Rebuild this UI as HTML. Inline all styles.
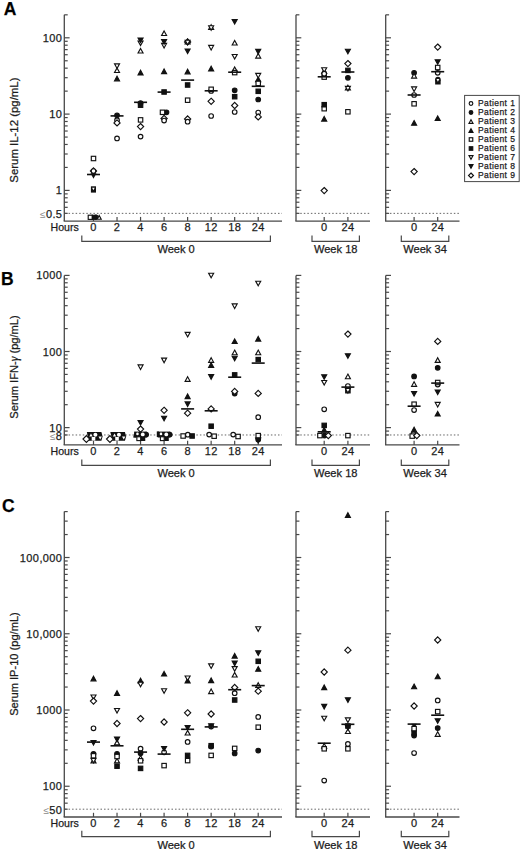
<!DOCTYPE html>
<html><head><meta charset="utf-8"><style>
html,body{margin:0;padding:0;background:#fff;}
svg{display:block;font-family:"Liberation Sans",sans-serif;}
text{stroke:#1c1c1c;stroke-width:0.25px;}
</style></head><body>
<svg width="520" height="849" viewBox="0 0 520 849">
<rect width="520" height="849" fill="#fff"/>
<text x="3.8" y="14.9" font-size="17.5" font-weight="bold" fill="#000">A</text>
<text transform="translate(17.8,130.1) rotate(-90)" text-anchor="middle" font-size="11.4" fill="#1c1c1c">Serum IL-12 (pg/mL)</text>
<line x1="64.3" y1="14.83" x2="64.3" y2="221.1" stroke="#484848" stroke-width="1.3"/>
<line x1="63.65" y1="221.1" x2="282.0" y2="221.1" stroke="#484848" stroke-width="1.3"/>
<line x1="64.3" y1="213.37" x2="67.7" y2="213.37" stroke="#484848" stroke-width="1.2"/>
<line x1="64.3" y1="207.33" x2="67.7" y2="207.33" stroke="#484848" stroke-width="1.2"/>
<line x1="64.3" y1="202.22" x2="67.7" y2="202.22" stroke="#484848" stroke-width="1.2"/>
<line x1="64.3" y1="197.79" x2="67.7" y2="197.79" stroke="#484848" stroke-width="1.2"/>
<line x1="64.3" y1="193.89" x2="67.7" y2="193.89" stroke="#484848" stroke-width="1.2"/>
<line x1="64.3" y1="190.40" x2="69.6" y2="190.40" stroke="#484848" stroke-width="1.2"/>
<line x1="64.3" y1="167.43" x2="67.7" y2="167.43" stroke="#484848" stroke-width="1.2"/>
<line x1="64.3" y1="154.00" x2="67.7" y2="154.00" stroke="#484848" stroke-width="1.2"/>
<line x1="64.3" y1="144.46" x2="67.7" y2="144.46" stroke="#484848" stroke-width="1.2"/>
<line x1="64.3" y1="137.07" x2="67.7" y2="137.07" stroke="#484848" stroke-width="1.2"/>
<line x1="64.3" y1="131.03" x2="67.7" y2="131.03" stroke="#484848" stroke-width="1.2"/>
<line x1="64.3" y1="125.92" x2="67.7" y2="125.92" stroke="#484848" stroke-width="1.2"/>
<line x1="64.3" y1="121.49" x2="67.7" y2="121.49" stroke="#484848" stroke-width="1.2"/>
<line x1="64.3" y1="117.59" x2="67.7" y2="117.59" stroke="#484848" stroke-width="1.2"/>
<line x1="64.3" y1="114.10" x2="69.6" y2="114.10" stroke="#484848" stroke-width="1.2"/>
<line x1="64.3" y1="91.13" x2="67.7" y2="91.13" stroke="#484848" stroke-width="1.2"/>
<line x1="64.3" y1="77.70" x2="67.7" y2="77.70" stroke="#484848" stroke-width="1.2"/>
<line x1="64.3" y1="68.16" x2="67.7" y2="68.16" stroke="#484848" stroke-width="1.2"/>
<line x1="64.3" y1="60.77" x2="67.7" y2="60.77" stroke="#484848" stroke-width="1.2"/>
<line x1="64.3" y1="54.73" x2="67.7" y2="54.73" stroke="#484848" stroke-width="1.2"/>
<line x1="64.3" y1="49.62" x2="67.7" y2="49.62" stroke="#484848" stroke-width="1.2"/>
<line x1="64.3" y1="45.19" x2="67.7" y2="45.19" stroke="#484848" stroke-width="1.2"/>
<line x1="64.3" y1="41.29" x2="67.7" y2="41.29" stroke="#484848" stroke-width="1.2"/>
<line x1="64.3" y1="37.80" x2="69.6" y2="37.80" stroke="#484848" stroke-width="1.2"/>
<line x1="64.3" y1="14.83" x2="67.7" y2="14.83" stroke="#484848" stroke-width="1.2"/>
<line x1="65.0" y1="213.37" x2="282.0" y2="213.37" stroke="#555" stroke-width="0.9" stroke-dasharray="1.5,2.05"/>
<line x1="93.50" y1="216.9" x2="93.50" y2="221.1" stroke="#484848" stroke-width="1.2"/>
<line x1="117.03" y1="216.9" x2="117.03" y2="221.1" stroke="#484848" stroke-width="1.2"/>
<line x1="140.56" y1="216.9" x2="140.56" y2="221.1" stroke="#484848" stroke-width="1.2"/>
<line x1="164.09" y1="216.9" x2="164.09" y2="221.1" stroke="#484848" stroke-width="1.2"/>
<line x1="187.62" y1="216.9" x2="187.62" y2="221.1" stroke="#484848" stroke-width="1.2"/>
<line x1="211.15" y1="216.9" x2="211.15" y2="221.1" stroke="#484848" stroke-width="1.2"/>
<line x1="234.68" y1="216.9" x2="234.68" y2="221.1" stroke="#484848" stroke-width="1.2"/>
<line x1="258.21" y1="216.9" x2="258.21" y2="221.1" stroke="#484848" stroke-width="1.2"/>
<text x="93.50" y="231.30" text-anchor="middle" font-size="11" letter-spacing="0.3" fill="#1c1c1c">0</text>
<text x="117.03" y="231.30" text-anchor="middle" font-size="11" letter-spacing="0.3" fill="#1c1c1c">2</text>
<text x="140.56" y="231.30" text-anchor="middle" font-size="11" letter-spacing="0.3" fill="#1c1c1c">4</text>
<text x="164.09" y="231.30" text-anchor="middle" font-size="11" letter-spacing="0.3" fill="#1c1c1c">6</text>
<text x="187.62" y="231.30" text-anchor="middle" font-size="11" letter-spacing="0.3" fill="#1c1c1c">8</text>
<text x="211.15" y="231.30" text-anchor="middle" font-size="11" letter-spacing="0.3" fill="#1c1c1c">12</text>
<text x="234.68" y="231.30" text-anchor="middle" font-size="11" letter-spacing="0.3" fill="#1c1c1c">18</text>
<text x="258.21" y="231.30" text-anchor="middle" font-size="11" letter-spacing="0.3" fill="#1c1c1c">24</text>
<path d="M81.8 235.50 V241.30 H270.4 V235.50" fill="none" stroke="#484848" stroke-width="1.2"/>
<text x="176.10" y="253.00" text-anchor="middle" font-size="11.1" fill="#1c1c1c">Week 0</text>
<text x="78.8" y="231.30" text-anchor="end" font-size="10.6" fill="#1c1c1c">Hours</text>
<text x="62.4" y="41.80" text-anchor="end" font-size="11" letter-spacing="0.4" fill="#1c1c1c">100</text>
<text x="62.4" y="118.10" text-anchor="end" font-size="11" letter-spacing="0.4" fill="#1c1c1c">10</text>
<text x="62.4" y="194.40" text-anchor="end" font-size="11" letter-spacing="0.4" fill="#1c1c1c">1</text>
<text x="62.4" y="218.17" text-anchor="end" font-size="11" letter-spacing="0.4" fill="#1c1c1c"><tspan fill="#8a8a8a" stroke="none" font-size="10">≤</tspan>0.5</text>
<line x1="296.0" y1="14.83" x2="296.0" y2="221.1" stroke="#484848" stroke-width="1.3"/>
<line x1="295.35" y1="221.1" x2="370.0" y2="221.1" stroke="#484848" stroke-width="1.3"/>
<line x1="296.0" y1="213.37" x2="299.4" y2="213.37" stroke="#484848" stroke-width="1.2"/>
<line x1="296.0" y1="207.33" x2="299.4" y2="207.33" stroke="#484848" stroke-width="1.2"/>
<line x1="296.0" y1="202.22" x2="299.4" y2="202.22" stroke="#484848" stroke-width="1.2"/>
<line x1="296.0" y1="197.79" x2="299.4" y2="197.79" stroke="#484848" stroke-width="1.2"/>
<line x1="296.0" y1="193.89" x2="299.4" y2="193.89" stroke="#484848" stroke-width="1.2"/>
<line x1="296.0" y1="190.40" x2="301.3" y2="190.40" stroke="#484848" stroke-width="1.2"/>
<line x1="296.0" y1="167.43" x2="299.4" y2="167.43" stroke="#484848" stroke-width="1.2"/>
<line x1="296.0" y1="154.00" x2="299.4" y2="154.00" stroke="#484848" stroke-width="1.2"/>
<line x1="296.0" y1="144.46" x2="299.4" y2="144.46" stroke="#484848" stroke-width="1.2"/>
<line x1="296.0" y1="137.07" x2="299.4" y2="137.07" stroke="#484848" stroke-width="1.2"/>
<line x1="296.0" y1="131.03" x2="299.4" y2="131.03" stroke="#484848" stroke-width="1.2"/>
<line x1="296.0" y1="125.92" x2="299.4" y2="125.92" stroke="#484848" stroke-width="1.2"/>
<line x1="296.0" y1="121.49" x2="299.4" y2="121.49" stroke="#484848" stroke-width="1.2"/>
<line x1="296.0" y1="117.59" x2="299.4" y2="117.59" stroke="#484848" stroke-width="1.2"/>
<line x1="296.0" y1="114.10" x2="301.3" y2="114.10" stroke="#484848" stroke-width="1.2"/>
<line x1="296.0" y1="91.13" x2="299.4" y2="91.13" stroke="#484848" stroke-width="1.2"/>
<line x1="296.0" y1="77.70" x2="299.4" y2="77.70" stroke="#484848" stroke-width="1.2"/>
<line x1="296.0" y1="68.16" x2="299.4" y2="68.16" stroke="#484848" stroke-width="1.2"/>
<line x1="296.0" y1="60.77" x2="299.4" y2="60.77" stroke="#484848" stroke-width="1.2"/>
<line x1="296.0" y1="54.73" x2="299.4" y2="54.73" stroke="#484848" stroke-width="1.2"/>
<line x1="296.0" y1="49.62" x2="299.4" y2="49.62" stroke="#484848" stroke-width="1.2"/>
<line x1="296.0" y1="45.19" x2="299.4" y2="45.19" stroke="#484848" stroke-width="1.2"/>
<line x1="296.0" y1="41.29" x2="299.4" y2="41.29" stroke="#484848" stroke-width="1.2"/>
<line x1="296.0" y1="37.80" x2="301.3" y2="37.80" stroke="#484848" stroke-width="1.2"/>
<line x1="296.0" y1="14.83" x2="299.4" y2="14.83" stroke="#484848" stroke-width="1.2"/>
<line x1="296.7" y1="213.37" x2="370.0" y2="213.37" stroke="#555" stroke-width="0.9" stroke-dasharray="1.5,2.05"/>
<line x1="324.20" y1="216.9" x2="324.20" y2="221.1" stroke="#484848" stroke-width="1.2"/>
<line x1="347.90" y1="216.9" x2="347.90" y2="221.1" stroke="#484848" stroke-width="1.2"/>
<text x="324.20" y="231.30" text-anchor="middle" font-size="11" letter-spacing="0.3" fill="#1c1c1c">0</text>
<text x="347.90" y="231.30" text-anchor="middle" font-size="11" letter-spacing="0.3" fill="#1c1c1c">24</text>
<path d="M312.0 235.50 V241.30 H359.4 V235.50" fill="none" stroke="#484848" stroke-width="1.2"/>
<text x="335.70" y="253.00" text-anchor="middle" font-size="11.1" fill="#1c1c1c">Week 18</text>
<line x1="385.7" y1="14.83" x2="385.7" y2="221.1" stroke="#484848" stroke-width="1.3"/>
<line x1="385.05" y1="221.1" x2="459.5" y2="221.1" stroke="#484848" stroke-width="1.3"/>
<line x1="385.7" y1="213.37" x2="389.09999999999997" y2="213.37" stroke="#484848" stroke-width="1.2"/>
<line x1="385.7" y1="207.33" x2="389.09999999999997" y2="207.33" stroke="#484848" stroke-width="1.2"/>
<line x1="385.7" y1="202.22" x2="389.09999999999997" y2="202.22" stroke="#484848" stroke-width="1.2"/>
<line x1="385.7" y1="197.79" x2="389.09999999999997" y2="197.79" stroke="#484848" stroke-width="1.2"/>
<line x1="385.7" y1="193.89" x2="389.09999999999997" y2="193.89" stroke="#484848" stroke-width="1.2"/>
<line x1="385.7" y1="190.40" x2="391.0" y2="190.40" stroke="#484848" stroke-width="1.2"/>
<line x1="385.7" y1="167.43" x2="389.09999999999997" y2="167.43" stroke="#484848" stroke-width="1.2"/>
<line x1="385.7" y1="154.00" x2="389.09999999999997" y2="154.00" stroke="#484848" stroke-width="1.2"/>
<line x1="385.7" y1="144.46" x2="389.09999999999997" y2="144.46" stroke="#484848" stroke-width="1.2"/>
<line x1="385.7" y1="137.07" x2="389.09999999999997" y2="137.07" stroke="#484848" stroke-width="1.2"/>
<line x1="385.7" y1="131.03" x2="389.09999999999997" y2="131.03" stroke="#484848" stroke-width="1.2"/>
<line x1="385.7" y1="125.92" x2="389.09999999999997" y2="125.92" stroke="#484848" stroke-width="1.2"/>
<line x1="385.7" y1="121.49" x2="389.09999999999997" y2="121.49" stroke="#484848" stroke-width="1.2"/>
<line x1="385.7" y1="117.59" x2="389.09999999999997" y2="117.59" stroke="#484848" stroke-width="1.2"/>
<line x1="385.7" y1="114.10" x2="391.0" y2="114.10" stroke="#484848" stroke-width="1.2"/>
<line x1="385.7" y1="91.13" x2="389.09999999999997" y2="91.13" stroke="#484848" stroke-width="1.2"/>
<line x1="385.7" y1="77.70" x2="389.09999999999997" y2="77.70" stroke="#484848" stroke-width="1.2"/>
<line x1="385.7" y1="68.16" x2="389.09999999999997" y2="68.16" stroke="#484848" stroke-width="1.2"/>
<line x1="385.7" y1="60.77" x2="389.09999999999997" y2="60.77" stroke="#484848" stroke-width="1.2"/>
<line x1="385.7" y1="54.73" x2="389.09999999999997" y2="54.73" stroke="#484848" stroke-width="1.2"/>
<line x1="385.7" y1="49.62" x2="389.09999999999997" y2="49.62" stroke="#484848" stroke-width="1.2"/>
<line x1="385.7" y1="45.19" x2="389.09999999999997" y2="45.19" stroke="#484848" stroke-width="1.2"/>
<line x1="385.7" y1="41.29" x2="389.09999999999997" y2="41.29" stroke="#484848" stroke-width="1.2"/>
<line x1="385.7" y1="37.80" x2="391.0" y2="37.80" stroke="#484848" stroke-width="1.2"/>
<line x1="385.7" y1="14.83" x2="389.09999999999997" y2="14.83" stroke="#484848" stroke-width="1.2"/>
<line x1="386.4" y1="213.37" x2="459.5" y2="213.37" stroke="#555" stroke-width="0.9" stroke-dasharray="1.5,2.05"/>
<line x1="414.10" y1="216.9" x2="414.10" y2="221.1" stroke="#484848" stroke-width="1.2"/>
<line x1="437.70" y1="216.9" x2="437.70" y2="221.1" stroke="#484848" stroke-width="1.2"/>
<text x="414.10" y="231.30" text-anchor="middle" font-size="11" letter-spacing="0.3" fill="#1c1c1c">0</text>
<text x="437.70" y="231.30" text-anchor="middle" font-size="11" letter-spacing="0.3" fill="#1c1c1c">24</text>
<path d="M401.3 235.50 V241.30 H448.8 V235.50" fill="none" stroke="#484848" stroke-width="1.2"/>
<text x="425.05" y="253.00" text-anchor="middle" font-size="11.1" fill="#1c1c1c">Week 34</text>
<text x="0.9" y="284.7" font-size="17.5" font-weight="bold" fill="#000">B</text>
<text transform="translate(17.8,367) rotate(-90)" text-anchor="middle" font-size="11.1" fill="#1c1c1c">Serum IFN-<tspan font-family="Liberation Serif" font-style="italic" font-size="12">γ</tspan> (pg/mL)</text>
<line x1="64.3" y1="275.40" x2="64.3" y2="444.9" stroke="#484848" stroke-width="1.3"/>
<line x1="63.65" y1="444.9" x2="282.0" y2="444.9" stroke="#484848" stroke-width="1.3"/>
<line x1="64.3" y1="434.97" x2="67.7" y2="434.97" stroke="#484848" stroke-width="1.2"/>
<line x1="64.3" y1="431.08" x2="67.7" y2="431.08" stroke="#484848" stroke-width="1.2"/>
<line x1="64.3" y1="427.60" x2="69.6" y2="427.60" stroke="#484848" stroke-width="1.2"/>
<line x1="64.3" y1="404.69" x2="67.7" y2="404.69" stroke="#484848" stroke-width="1.2"/>
<line x1="64.3" y1="391.29" x2="67.7" y2="391.29" stroke="#484848" stroke-width="1.2"/>
<line x1="64.3" y1="381.78" x2="67.7" y2="381.78" stroke="#484848" stroke-width="1.2"/>
<line x1="64.3" y1="374.41" x2="67.7" y2="374.41" stroke="#484848" stroke-width="1.2"/>
<line x1="64.3" y1="368.38" x2="67.7" y2="368.38" stroke="#484848" stroke-width="1.2"/>
<line x1="64.3" y1="363.29" x2="67.7" y2="363.29" stroke="#484848" stroke-width="1.2"/>
<line x1="64.3" y1="358.87" x2="67.7" y2="358.87" stroke="#484848" stroke-width="1.2"/>
<line x1="64.3" y1="354.98" x2="67.7" y2="354.98" stroke="#484848" stroke-width="1.2"/>
<line x1="64.3" y1="351.50" x2="69.6" y2="351.50" stroke="#484848" stroke-width="1.2"/>
<line x1="64.3" y1="328.59" x2="67.7" y2="328.59" stroke="#484848" stroke-width="1.2"/>
<line x1="64.3" y1="315.19" x2="67.7" y2="315.19" stroke="#484848" stroke-width="1.2"/>
<line x1="64.3" y1="305.68" x2="67.7" y2="305.68" stroke="#484848" stroke-width="1.2"/>
<line x1="64.3" y1="298.31" x2="67.7" y2="298.31" stroke="#484848" stroke-width="1.2"/>
<line x1="64.3" y1="292.28" x2="67.7" y2="292.28" stroke="#484848" stroke-width="1.2"/>
<line x1="64.3" y1="287.19" x2="67.7" y2="287.19" stroke="#484848" stroke-width="1.2"/>
<line x1="64.3" y1="282.77" x2="67.7" y2="282.77" stroke="#484848" stroke-width="1.2"/>
<line x1="64.3" y1="278.88" x2="67.7" y2="278.88" stroke="#484848" stroke-width="1.2"/>
<line x1="64.3" y1="275.40" x2="69.6" y2="275.40" stroke="#484848" stroke-width="1.2"/>
<line x1="65.0" y1="434.97" x2="282.0" y2="434.97" stroke="#555" stroke-width="0.9" stroke-dasharray="1.5,2.05"/>
<line x1="93.50" y1="440.7" x2="93.50" y2="444.9" stroke="#484848" stroke-width="1.2"/>
<line x1="117.03" y1="440.7" x2="117.03" y2="444.9" stroke="#484848" stroke-width="1.2"/>
<line x1="140.56" y1="440.7" x2="140.56" y2="444.9" stroke="#484848" stroke-width="1.2"/>
<line x1="164.09" y1="440.7" x2="164.09" y2="444.9" stroke="#484848" stroke-width="1.2"/>
<line x1="187.62" y1="440.7" x2="187.62" y2="444.9" stroke="#484848" stroke-width="1.2"/>
<line x1="211.15" y1="440.7" x2="211.15" y2="444.9" stroke="#484848" stroke-width="1.2"/>
<line x1="234.68" y1="440.7" x2="234.68" y2="444.9" stroke="#484848" stroke-width="1.2"/>
<line x1="258.21" y1="440.7" x2="258.21" y2="444.9" stroke="#484848" stroke-width="1.2"/>
<text x="93.50" y="454.50" text-anchor="middle" font-size="11" letter-spacing="0.3" fill="#1c1c1c">0</text>
<text x="117.03" y="454.50" text-anchor="middle" font-size="11" letter-spacing="0.3" fill="#1c1c1c">2</text>
<text x="140.56" y="454.50" text-anchor="middle" font-size="11" letter-spacing="0.3" fill="#1c1c1c">4</text>
<text x="164.09" y="454.50" text-anchor="middle" font-size="11" letter-spacing="0.3" fill="#1c1c1c">6</text>
<text x="187.62" y="454.50" text-anchor="middle" font-size="11" letter-spacing="0.3" fill="#1c1c1c">8</text>
<text x="211.15" y="454.50" text-anchor="middle" font-size="11" letter-spacing="0.3" fill="#1c1c1c">12</text>
<text x="234.68" y="454.50" text-anchor="middle" font-size="11" letter-spacing="0.3" fill="#1c1c1c">18</text>
<text x="258.21" y="454.50" text-anchor="middle" font-size="11" letter-spacing="0.3" fill="#1c1c1c">24</text>
<path d="M81.8 459.60 V465.40 H270.4 V459.60" fill="none" stroke="#484848" stroke-width="1.2"/>
<text x="176.10" y="476.90" text-anchor="middle" font-size="11.1" fill="#1c1c1c">Week 0</text>
<text x="78.8" y="454.50" text-anchor="end" font-size="10.6" fill="#1c1c1c">Hours</text>
<text x="62.4" y="279.40" text-anchor="end" font-size="11" letter-spacing="0.4" fill="#1c1c1c">1000</text>
<text x="62.4" y="355.50" text-anchor="end" font-size="11" letter-spacing="0.4" fill="#1c1c1c">100</text>
<text x="62.4" y="431.60" text-anchor="end" font-size="11" letter-spacing="0.4" fill="#1c1c1c">10</text>
<text x="62.4" y="440.27" text-anchor="end" font-size="11" letter-spacing="0.4" fill="#1c1c1c"><tspan fill="#8a8a8a" stroke="none" font-size="10">≤</tspan>8</text>
<line x1="296.0" y1="275.40" x2="296.0" y2="444.9" stroke="#484848" stroke-width="1.3"/>
<line x1="295.35" y1="444.9" x2="370.0" y2="444.9" stroke="#484848" stroke-width="1.3"/>
<line x1="296.0" y1="434.97" x2="299.4" y2="434.97" stroke="#484848" stroke-width="1.2"/>
<line x1="296.0" y1="431.08" x2="299.4" y2="431.08" stroke="#484848" stroke-width="1.2"/>
<line x1="296.0" y1="427.60" x2="301.3" y2="427.60" stroke="#484848" stroke-width="1.2"/>
<line x1="296.0" y1="404.69" x2="299.4" y2="404.69" stroke="#484848" stroke-width="1.2"/>
<line x1="296.0" y1="391.29" x2="299.4" y2="391.29" stroke="#484848" stroke-width="1.2"/>
<line x1="296.0" y1="381.78" x2="299.4" y2="381.78" stroke="#484848" stroke-width="1.2"/>
<line x1="296.0" y1="374.41" x2="299.4" y2="374.41" stroke="#484848" stroke-width="1.2"/>
<line x1="296.0" y1="368.38" x2="299.4" y2="368.38" stroke="#484848" stroke-width="1.2"/>
<line x1="296.0" y1="363.29" x2="299.4" y2="363.29" stroke="#484848" stroke-width="1.2"/>
<line x1="296.0" y1="358.87" x2="299.4" y2="358.87" stroke="#484848" stroke-width="1.2"/>
<line x1="296.0" y1="354.98" x2="299.4" y2="354.98" stroke="#484848" stroke-width="1.2"/>
<line x1="296.0" y1="351.50" x2="301.3" y2="351.50" stroke="#484848" stroke-width="1.2"/>
<line x1="296.0" y1="328.59" x2="299.4" y2="328.59" stroke="#484848" stroke-width="1.2"/>
<line x1="296.0" y1="315.19" x2="299.4" y2="315.19" stroke="#484848" stroke-width="1.2"/>
<line x1="296.0" y1="305.68" x2="299.4" y2="305.68" stroke="#484848" stroke-width="1.2"/>
<line x1="296.0" y1="298.31" x2="299.4" y2="298.31" stroke="#484848" stroke-width="1.2"/>
<line x1="296.0" y1="292.28" x2="299.4" y2="292.28" stroke="#484848" stroke-width="1.2"/>
<line x1="296.0" y1="287.19" x2="299.4" y2="287.19" stroke="#484848" stroke-width="1.2"/>
<line x1="296.0" y1="282.77" x2="299.4" y2="282.77" stroke="#484848" stroke-width="1.2"/>
<line x1="296.0" y1="278.88" x2="299.4" y2="278.88" stroke="#484848" stroke-width="1.2"/>
<line x1="296.0" y1="275.40" x2="301.3" y2="275.40" stroke="#484848" stroke-width="1.2"/>
<line x1="296.7" y1="434.97" x2="370.0" y2="434.97" stroke="#555" stroke-width="0.9" stroke-dasharray="1.5,2.05"/>
<line x1="324.20" y1="440.7" x2="324.20" y2="444.9" stroke="#484848" stroke-width="1.2"/>
<line x1="347.90" y1="440.7" x2="347.90" y2="444.9" stroke="#484848" stroke-width="1.2"/>
<text x="324.20" y="454.50" text-anchor="middle" font-size="11" letter-spacing="0.3" fill="#1c1c1c">0</text>
<text x="347.90" y="454.50" text-anchor="middle" font-size="11" letter-spacing="0.3" fill="#1c1c1c">24</text>
<path d="M312.0 459.60 V465.40 H359.4 V459.60" fill="none" stroke="#484848" stroke-width="1.2"/>
<text x="335.70" y="476.90" text-anchor="middle" font-size="11.1" fill="#1c1c1c">Week 18</text>
<line x1="385.7" y1="275.40" x2="385.7" y2="444.9" stroke="#484848" stroke-width="1.3"/>
<line x1="385.05" y1="444.9" x2="459.5" y2="444.9" stroke="#484848" stroke-width="1.3"/>
<line x1="385.7" y1="434.97" x2="389.09999999999997" y2="434.97" stroke="#484848" stroke-width="1.2"/>
<line x1="385.7" y1="431.08" x2="389.09999999999997" y2="431.08" stroke="#484848" stroke-width="1.2"/>
<line x1="385.7" y1="427.60" x2="391.0" y2="427.60" stroke="#484848" stroke-width="1.2"/>
<line x1="385.7" y1="404.69" x2="389.09999999999997" y2="404.69" stroke="#484848" stroke-width="1.2"/>
<line x1="385.7" y1="391.29" x2="389.09999999999997" y2="391.29" stroke="#484848" stroke-width="1.2"/>
<line x1="385.7" y1="381.78" x2="389.09999999999997" y2="381.78" stroke="#484848" stroke-width="1.2"/>
<line x1="385.7" y1="374.41" x2="389.09999999999997" y2="374.41" stroke="#484848" stroke-width="1.2"/>
<line x1="385.7" y1="368.38" x2="389.09999999999997" y2="368.38" stroke="#484848" stroke-width="1.2"/>
<line x1="385.7" y1="363.29" x2="389.09999999999997" y2="363.29" stroke="#484848" stroke-width="1.2"/>
<line x1="385.7" y1="358.87" x2="389.09999999999997" y2="358.87" stroke="#484848" stroke-width="1.2"/>
<line x1="385.7" y1="354.98" x2="389.09999999999997" y2="354.98" stroke="#484848" stroke-width="1.2"/>
<line x1="385.7" y1="351.50" x2="391.0" y2="351.50" stroke="#484848" stroke-width="1.2"/>
<line x1="385.7" y1="328.59" x2="389.09999999999997" y2="328.59" stroke="#484848" stroke-width="1.2"/>
<line x1="385.7" y1="315.19" x2="389.09999999999997" y2="315.19" stroke="#484848" stroke-width="1.2"/>
<line x1="385.7" y1="305.68" x2="389.09999999999997" y2="305.68" stroke="#484848" stroke-width="1.2"/>
<line x1="385.7" y1="298.31" x2="389.09999999999997" y2="298.31" stroke="#484848" stroke-width="1.2"/>
<line x1="385.7" y1="292.28" x2="389.09999999999997" y2="292.28" stroke="#484848" stroke-width="1.2"/>
<line x1="385.7" y1="287.19" x2="389.09999999999997" y2="287.19" stroke="#484848" stroke-width="1.2"/>
<line x1="385.7" y1="282.77" x2="389.09999999999997" y2="282.77" stroke="#484848" stroke-width="1.2"/>
<line x1="385.7" y1="278.88" x2="389.09999999999997" y2="278.88" stroke="#484848" stroke-width="1.2"/>
<line x1="385.7" y1="275.40" x2="391.0" y2="275.40" stroke="#484848" stroke-width="1.2"/>
<line x1="386.4" y1="434.97" x2="459.5" y2="434.97" stroke="#555" stroke-width="0.9" stroke-dasharray="1.5,2.05"/>
<line x1="414.10" y1="440.7" x2="414.10" y2="444.9" stroke="#484848" stroke-width="1.2"/>
<line x1="437.70" y1="440.7" x2="437.70" y2="444.9" stroke="#484848" stroke-width="1.2"/>
<text x="414.10" y="454.50" text-anchor="middle" font-size="11" letter-spacing="0.3" fill="#1c1c1c">0</text>
<text x="437.70" y="454.50" text-anchor="middle" font-size="11" letter-spacing="0.3" fill="#1c1c1c">24</text>
<path d="M401.3 459.60 V465.40 H448.8 V459.60" fill="none" stroke="#484848" stroke-width="1.2"/>
<text x="425.05" y="476.90" text-anchor="middle" font-size="11.1" fill="#1c1c1c">Week 34</text>
<text x="1.9" y="511.6" font-size="17.5" font-weight="bold" fill="#000">C</text>
<text transform="translate(17.8,664) rotate(-90)" text-anchor="middle" font-size="11.1" fill="#1c1c1c">Serum IP-10 (pg/mL)</text>
<line x1="64.3" y1="511.59" x2="64.3" y2="817.0" stroke="#484848" stroke-width="1.3"/>
<line x1="63.65" y1="817.0" x2="282.0" y2="817.0" stroke="#484848" stroke-width="1.3"/>
<line x1="64.3" y1="809.20" x2="67.7" y2="809.20" stroke="#484848" stroke-width="1.2"/>
<line x1="64.3" y1="803.17" x2="67.7" y2="803.17" stroke="#484848" stroke-width="1.2"/>
<line x1="64.3" y1="798.06" x2="67.7" y2="798.06" stroke="#484848" stroke-width="1.2"/>
<line x1="64.3" y1="793.64" x2="67.7" y2="793.64" stroke="#484848" stroke-width="1.2"/>
<line x1="64.3" y1="789.74" x2="67.7" y2="789.74" stroke="#484848" stroke-width="1.2"/>
<line x1="64.3" y1="786.25" x2="69.6" y2="786.25" stroke="#484848" stroke-width="1.2"/>
<line x1="64.3" y1="763.30" x2="67.7" y2="763.30" stroke="#484848" stroke-width="1.2"/>
<line x1="64.3" y1="749.87" x2="67.7" y2="749.87" stroke="#484848" stroke-width="1.2"/>
<line x1="64.3" y1="740.34" x2="67.7" y2="740.34" stroke="#484848" stroke-width="1.2"/>
<line x1="64.3" y1="732.95" x2="67.7" y2="732.95" stroke="#484848" stroke-width="1.2"/>
<line x1="64.3" y1="726.92" x2="67.7" y2="726.92" stroke="#484848" stroke-width="1.2"/>
<line x1="64.3" y1="721.81" x2="67.7" y2="721.81" stroke="#484848" stroke-width="1.2"/>
<line x1="64.3" y1="717.39" x2="67.7" y2="717.39" stroke="#484848" stroke-width="1.2"/>
<line x1="64.3" y1="713.49" x2="67.7" y2="713.49" stroke="#484848" stroke-width="1.2"/>
<line x1="64.3" y1="710.00" x2="69.6" y2="710.00" stroke="#484848" stroke-width="1.2"/>
<line x1="64.3" y1="687.05" x2="67.7" y2="687.05" stroke="#484848" stroke-width="1.2"/>
<line x1="64.3" y1="673.62" x2="67.7" y2="673.62" stroke="#484848" stroke-width="1.2"/>
<line x1="64.3" y1="664.09" x2="67.7" y2="664.09" stroke="#484848" stroke-width="1.2"/>
<line x1="64.3" y1="656.70" x2="67.7" y2="656.70" stroke="#484848" stroke-width="1.2"/>
<line x1="64.3" y1="650.67" x2="67.7" y2="650.67" stroke="#484848" stroke-width="1.2"/>
<line x1="64.3" y1="645.56" x2="67.7" y2="645.56" stroke="#484848" stroke-width="1.2"/>
<line x1="64.3" y1="641.14" x2="67.7" y2="641.14" stroke="#484848" stroke-width="1.2"/>
<line x1="64.3" y1="637.24" x2="67.7" y2="637.24" stroke="#484848" stroke-width="1.2"/>
<line x1="64.3" y1="633.75" x2="69.6" y2="633.75" stroke="#484848" stroke-width="1.2"/>
<line x1="64.3" y1="610.80" x2="67.7" y2="610.80" stroke="#484848" stroke-width="1.2"/>
<line x1="64.3" y1="597.37" x2="67.7" y2="597.37" stroke="#484848" stroke-width="1.2"/>
<line x1="64.3" y1="587.84" x2="67.7" y2="587.84" stroke="#484848" stroke-width="1.2"/>
<line x1="64.3" y1="580.45" x2="67.7" y2="580.45" stroke="#484848" stroke-width="1.2"/>
<line x1="64.3" y1="574.42" x2="67.7" y2="574.42" stroke="#484848" stroke-width="1.2"/>
<line x1="64.3" y1="569.31" x2="67.7" y2="569.31" stroke="#484848" stroke-width="1.2"/>
<line x1="64.3" y1="564.89" x2="67.7" y2="564.89" stroke="#484848" stroke-width="1.2"/>
<line x1="64.3" y1="560.99" x2="67.7" y2="560.99" stroke="#484848" stroke-width="1.2"/>
<line x1="64.3" y1="557.50" x2="69.6" y2="557.50" stroke="#484848" stroke-width="1.2"/>
<line x1="64.3" y1="534.55" x2="67.7" y2="534.55" stroke="#484848" stroke-width="1.2"/>
<line x1="64.3" y1="521.12" x2="67.7" y2="521.12" stroke="#484848" stroke-width="1.2"/>
<line x1="64.3" y1="511.59" x2="67.7" y2="511.59" stroke="#484848" stroke-width="1.2"/>
<line x1="65.0" y1="809.20" x2="282.0" y2="809.20" stroke="#555" stroke-width="0.9" stroke-dasharray="1.5,2.05"/>
<line x1="93.50" y1="812.8" x2="93.50" y2="817.0" stroke="#484848" stroke-width="1.2"/>
<line x1="117.03" y1="812.8" x2="117.03" y2="817.0" stroke="#484848" stroke-width="1.2"/>
<line x1="140.56" y1="812.8" x2="140.56" y2="817.0" stroke="#484848" stroke-width="1.2"/>
<line x1="164.09" y1="812.8" x2="164.09" y2="817.0" stroke="#484848" stroke-width="1.2"/>
<line x1="187.62" y1="812.8" x2="187.62" y2="817.0" stroke="#484848" stroke-width="1.2"/>
<line x1="211.15" y1="812.8" x2="211.15" y2="817.0" stroke="#484848" stroke-width="1.2"/>
<line x1="234.68" y1="812.8" x2="234.68" y2="817.0" stroke="#484848" stroke-width="1.2"/>
<line x1="258.21" y1="812.8" x2="258.21" y2="817.0" stroke="#484848" stroke-width="1.2"/>
<text x="93.50" y="826.60" text-anchor="middle" font-size="11" letter-spacing="0.3" fill="#1c1c1c">0</text>
<text x="117.03" y="826.60" text-anchor="middle" font-size="11" letter-spacing="0.3" fill="#1c1c1c">2</text>
<text x="140.56" y="826.60" text-anchor="middle" font-size="11" letter-spacing="0.3" fill="#1c1c1c">4</text>
<text x="164.09" y="826.60" text-anchor="middle" font-size="11" letter-spacing="0.3" fill="#1c1c1c">6</text>
<text x="187.62" y="826.60" text-anchor="middle" font-size="11" letter-spacing="0.3" fill="#1c1c1c">8</text>
<text x="211.15" y="826.60" text-anchor="middle" font-size="11" letter-spacing="0.3" fill="#1c1c1c">12</text>
<text x="234.68" y="826.60" text-anchor="middle" font-size="11" letter-spacing="0.3" fill="#1c1c1c">18</text>
<text x="258.21" y="826.60" text-anchor="middle" font-size="11" letter-spacing="0.3" fill="#1c1c1c">24</text>
<path d="M81.8 830.80 V836.60 H270.4 V830.80" fill="none" stroke="#484848" stroke-width="1.2"/>
<text x="176.10" y="849.00" text-anchor="middle" font-size="11.1" fill="#1c1c1c">Week 0</text>
<text x="78.8" y="826.60" text-anchor="end" font-size="10.6" fill="#1c1c1c">Hours</text>
<text x="62.4" y="561.50" text-anchor="end" font-size="11" letter-spacing="0.4" fill="#1c1c1c">100,000</text>
<text x="62.4" y="637.75" text-anchor="end" font-size="11" letter-spacing="0.4" fill="#1c1c1c">10,000</text>
<text x="62.4" y="714.00" text-anchor="end" font-size="11" letter-spacing="0.4" fill="#1c1c1c">1000</text>
<text x="62.4" y="790.25" text-anchor="end" font-size="11" letter-spacing="0.4" fill="#1c1c1c">100</text>
<text x="62.4" y="814.00" text-anchor="end" font-size="11" letter-spacing="0.4" fill="#1c1c1c"><tspan fill="#8a8a8a" stroke="none" font-size="10">≤</tspan>50</text>
<line x1="296.0" y1="511.59" x2="296.0" y2="817.0" stroke="#484848" stroke-width="1.3"/>
<line x1="295.35" y1="817.0" x2="370.0" y2="817.0" stroke="#484848" stroke-width="1.3"/>
<line x1="296.0" y1="809.20" x2="299.4" y2="809.20" stroke="#484848" stroke-width="1.2"/>
<line x1="296.0" y1="803.17" x2="299.4" y2="803.17" stroke="#484848" stroke-width="1.2"/>
<line x1="296.0" y1="798.06" x2="299.4" y2="798.06" stroke="#484848" stroke-width="1.2"/>
<line x1="296.0" y1="793.64" x2="299.4" y2="793.64" stroke="#484848" stroke-width="1.2"/>
<line x1="296.0" y1="789.74" x2="299.4" y2="789.74" stroke="#484848" stroke-width="1.2"/>
<line x1="296.0" y1="786.25" x2="301.3" y2="786.25" stroke="#484848" stroke-width="1.2"/>
<line x1="296.0" y1="763.30" x2="299.4" y2="763.30" stroke="#484848" stroke-width="1.2"/>
<line x1="296.0" y1="749.87" x2="299.4" y2="749.87" stroke="#484848" stroke-width="1.2"/>
<line x1="296.0" y1="740.34" x2="299.4" y2="740.34" stroke="#484848" stroke-width="1.2"/>
<line x1="296.0" y1="732.95" x2="299.4" y2="732.95" stroke="#484848" stroke-width="1.2"/>
<line x1="296.0" y1="726.92" x2="299.4" y2="726.92" stroke="#484848" stroke-width="1.2"/>
<line x1="296.0" y1="721.81" x2="299.4" y2="721.81" stroke="#484848" stroke-width="1.2"/>
<line x1="296.0" y1="717.39" x2="299.4" y2="717.39" stroke="#484848" stroke-width="1.2"/>
<line x1="296.0" y1="713.49" x2="299.4" y2="713.49" stroke="#484848" stroke-width="1.2"/>
<line x1="296.0" y1="710.00" x2="301.3" y2="710.00" stroke="#484848" stroke-width="1.2"/>
<line x1="296.0" y1="687.05" x2="299.4" y2="687.05" stroke="#484848" stroke-width="1.2"/>
<line x1="296.0" y1="673.62" x2="299.4" y2="673.62" stroke="#484848" stroke-width="1.2"/>
<line x1="296.0" y1="664.09" x2="299.4" y2="664.09" stroke="#484848" stroke-width="1.2"/>
<line x1="296.0" y1="656.70" x2="299.4" y2="656.70" stroke="#484848" stroke-width="1.2"/>
<line x1="296.0" y1="650.67" x2="299.4" y2="650.67" stroke="#484848" stroke-width="1.2"/>
<line x1="296.0" y1="645.56" x2="299.4" y2="645.56" stroke="#484848" stroke-width="1.2"/>
<line x1="296.0" y1="641.14" x2="299.4" y2="641.14" stroke="#484848" stroke-width="1.2"/>
<line x1="296.0" y1="637.24" x2="299.4" y2="637.24" stroke="#484848" stroke-width="1.2"/>
<line x1="296.0" y1="633.75" x2="301.3" y2="633.75" stroke="#484848" stroke-width="1.2"/>
<line x1="296.0" y1="610.80" x2="299.4" y2="610.80" stroke="#484848" stroke-width="1.2"/>
<line x1="296.0" y1="597.37" x2="299.4" y2="597.37" stroke="#484848" stroke-width="1.2"/>
<line x1="296.0" y1="587.84" x2="299.4" y2="587.84" stroke="#484848" stroke-width="1.2"/>
<line x1="296.0" y1="580.45" x2="299.4" y2="580.45" stroke="#484848" stroke-width="1.2"/>
<line x1="296.0" y1="574.42" x2="299.4" y2="574.42" stroke="#484848" stroke-width="1.2"/>
<line x1="296.0" y1="569.31" x2="299.4" y2="569.31" stroke="#484848" stroke-width="1.2"/>
<line x1="296.0" y1="564.89" x2="299.4" y2="564.89" stroke="#484848" stroke-width="1.2"/>
<line x1="296.0" y1="560.99" x2="299.4" y2="560.99" stroke="#484848" stroke-width="1.2"/>
<line x1="296.0" y1="557.50" x2="301.3" y2="557.50" stroke="#484848" stroke-width="1.2"/>
<line x1="296.0" y1="534.55" x2="299.4" y2="534.55" stroke="#484848" stroke-width="1.2"/>
<line x1="296.0" y1="521.12" x2="299.4" y2="521.12" stroke="#484848" stroke-width="1.2"/>
<line x1="296.0" y1="511.59" x2="299.4" y2="511.59" stroke="#484848" stroke-width="1.2"/>
<line x1="296.7" y1="809.20" x2="370.0" y2="809.20" stroke="#555" stroke-width="0.9" stroke-dasharray="1.5,2.05"/>
<line x1="324.20" y1="812.8" x2="324.20" y2="817.0" stroke="#484848" stroke-width="1.2"/>
<line x1="347.90" y1="812.8" x2="347.90" y2="817.0" stroke="#484848" stroke-width="1.2"/>
<text x="324.20" y="826.60" text-anchor="middle" font-size="11" letter-spacing="0.3" fill="#1c1c1c">0</text>
<text x="347.90" y="826.60" text-anchor="middle" font-size="11" letter-spacing="0.3" fill="#1c1c1c">24</text>
<path d="M312.0 830.80 V836.60 H359.4 V830.80" fill="none" stroke="#484848" stroke-width="1.2"/>
<text x="335.70" y="849.00" text-anchor="middle" font-size="11.1" fill="#1c1c1c">Week 18</text>
<line x1="385.7" y1="511.59" x2="385.7" y2="817.0" stroke="#484848" stroke-width="1.3"/>
<line x1="385.05" y1="817.0" x2="459.5" y2="817.0" stroke="#484848" stroke-width="1.3"/>
<line x1="385.7" y1="809.20" x2="389.09999999999997" y2="809.20" stroke="#484848" stroke-width="1.2"/>
<line x1="385.7" y1="803.17" x2="389.09999999999997" y2="803.17" stroke="#484848" stroke-width="1.2"/>
<line x1="385.7" y1="798.06" x2="389.09999999999997" y2="798.06" stroke="#484848" stroke-width="1.2"/>
<line x1="385.7" y1="793.64" x2="389.09999999999997" y2="793.64" stroke="#484848" stroke-width="1.2"/>
<line x1="385.7" y1="789.74" x2="389.09999999999997" y2="789.74" stroke="#484848" stroke-width="1.2"/>
<line x1="385.7" y1="786.25" x2="391.0" y2="786.25" stroke="#484848" stroke-width="1.2"/>
<line x1="385.7" y1="763.30" x2="389.09999999999997" y2="763.30" stroke="#484848" stroke-width="1.2"/>
<line x1="385.7" y1="749.87" x2="389.09999999999997" y2="749.87" stroke="#484848" stroke-width="1.2"/>
<line x1="385.7" y1="740.34" x2="389.09999999999997" y2="740.34" stroke="#484848" stroke-width="1.2"/>
<line x1="385.7" y1="732.95" x2="389.09999999999997" y2="732.95" stroke="#484848" stroke-width="1.2"/>
<line x1="385.7" y1="726.92" x2="389.09999999999997" y2="726.92" stroke="#484848" stroke-width="1.2"/>
<line x1="385.7" y1="721.81" x2="389.09999999999997" y2="721.81" stroke="#484848" stroke-width="1.2"/>
<line x1="385.7" y1="717.39" x2="389.09999999999997" y2="717.39" stroke="#484848" stroke-width="1.2"/>
<line x1="385.7" y1="713.49" x2="389.09999999999997" y2="713.49" stroke="#484848" stroke-width="1.2"/>
<line x1="385.7" y1="710.00" x2="391.0" y2="710.00" stroke="#484848" stroke-width="1.2"/>
<line x1="385.7" y1="687.05" x2="389.09999999999997" y2="687.05" stroke="#484848" stroke-width="1.2"/>
<line x1="385.7" y1="673.62" x2="389.09999999999997" y2="673.62" stroke="#484848" stroke-width="1.2"/>
<line x1="385.7" y1="664.09" x2="389.09999999999997" y2="664.09" stroke="#484848" stroke-width="1.2"/>
<line x1="385.7" y1="656.70" x2="389.09999999999997" y2="656.70" stroke="#484848" stroke-width="1.2"/>
<line x1="385.7" y1="650.67" x2="389.09999999999997" y2="650.67" stroke="#484848" stroke-width="1.2"/>
<line x1="385.7" y1="645.56" x2="389.09999999999997" y2="645.56" stroke="#484848" stroke-width="1.2"/>
<line x1="385.7" y1="641.14" x2="389.09999999999997" y2="641.14" stroke="#484848" stroke-width="1.2"/>
<line x1="385.7" y1="637.24" x2="389.09999999999997" y2="637.24" stroke="#484848" stroke-width="1.2"/>
<line x1="385.7" y1="633.75" x2="391.0" y2="633.75" stroke="#484848" stroke-width="1.2"/>
<line x1="385.7" y1="610.80" x2="389.09999999999997" y2="610.80" stroke="#484848" stroke-width="1.2"/>
<line x1="385.7" y1="597.37" x2="389.09999999999997" y2="597.37" stroke="#484848" stroke-width="1.2"/>
<line x1="385.7" y1="587.84" x2="389.09999999999997" y2="587.84" stroke="#484848" stroke-width="1.2"/>
<line x1="385.7" y1="580.45" x2="389.09999999999997" y2="580.45" stroke="#484848" stroke-width="1.2"/>
<line x1="385.7" y1="574.42" x2="389.09999999999997" y2="574.42" stroke="#484848" stroke-width="1.2"/>
<line x1="385.7" y1="569.31" x2="389.09999999999997" y2="569.31" stroke="#484848" stroke-width="1.2"/>
<line x1="385.7" y1="564.89" x2="389.09999999999997" y2="564.89" stroke="#484848" stroke-width="1.2"/>
<line x1="385.7" y1="560.99" x2="389.09999999999997" y2="560.99" stroke="#484848" stroke-width="1.2"/>
<line x1="385.7" y1="557.50" x2="391.0" y2="557.50" stroke="#484848" stroke-width="1.2"/>
<line x1="385.7" y1="534.55" x2="389.09999999999997" y2="534.55" stroke="#484848" stroke-width="1.2"/>
<line x1="385.7" y1="521.12" x2="389.09999999999997" y2="521.12" stroke="#484848" stroke-width="1.2"/>
<line x1="385.7" y1="511.59" x2="389.09999999999997" y2="511.59" stroke="#484848" stroke-width="1.2"/>
<line x1="386.4" y1="809.20" x2="459.5" y2="809.20" stroke="#555" stroke-width="0.9" stroke-dasharray="1.5,2.05"/>
<line x1="414.10" y1="812.8" x2="414.10" y2="817.0" stroke="#484848" stroke-width="1.2"/>
<line x1="437.70" y1="812.8" x2="437.70" y2="817.0" stroke="#484848" stroke-width="1.2"/>
<text x="414.10" y="826.60" text-anchor="middle" font-size="11" letter-spacing="0.3" fill="#1c1c1c">0</text>
<text x="437.70" y="826.60" text-anchor="middle" font-size="11" letter-spacing="0.3" fill="#1c1c1c">24</text>
<path d="M401.3 830.80 V836.60 H448.8 V830.80" fill="none" stroke="#484848" stroke-width="1.2"/>
<text x="425.05" y="849.00" text-anchor="middle" font-size="11.1" fill="#1c1c1c">Week 34</text>
<circle cx="117.03" cy="120.20" r="2.30" fill="#fff" stroke="#111" stroke-width="1.15"/>
<circle cx="117.03" cy="138.40" r="2.30" fill="#fff" stroke="#111" stroke-width="1.15"/>
<circle cx="140.56" cy="136.60" r="2.30" fill="#fff" stroke="#111" stroke-width="1.15"/>
<circle cx="211.15" cy="91.00" r="2.30" fill="#fff" stroke="#111" stroke-width="1.15"/>
<circle cx="211.15" cy="116.00" r="2.30" fill="#fff" stroke="#111" stroke-width="1.15"/>
<circle cx="234.68" cy="112.00" r="2.30" fill="#fff" stroke="#111" stroke-width="1.15"/>
<circle cx="258.21" cy="112.60" r="2.30" fill="#fff" stroke="#111" stroke-width="1.15"/>
<circle cx="414.10" cy="95.00" r="2.30" fill="#fff" stroke="#111" stroke-width="1.15"/>
<circle cx="437.70" cy="72.80" r="2.30" fill="#fff" stroke="#111" stroke-width="1.15"/>
<circle cx="187.82" cy="434.70" r="2.30" fill="#fff" stroke="#111" stroke-width="1.15"/>
<circle cx="209.15" cy="434.60" r="2.30" fill="#fff" stroke="#111" stroke-width="1.15"/>
<circle cx="233.18" cy="434.60" r="2.30" fill="#fff" stroke="#111" stroke-width="1.15"/>
<circle cx="258.21" cy="417.20" r="2.30" fill="#fff" stroke="#111" stroke-width="1.15"/>
<circle cx="324.20" cy="409.30" r="2.30" fill="#fff" stroke="#111" stroke-width="1.15"/>
<circle cx="347.90" cy="386.00" r="2.30" fill="#fff" stroke="#111" stroke-width="1.15"/>
<circle cx="414.10" cy="410.00" r="2.30" fill="#fff" stroke="#111" stroke-width="1.15"/>
<circle cx="413.50" cy="434.00" r="2.30" fill="#fff" stroke="#111" stroke-width="1.15"/>
<circle cx="437.70" cy="384.60" r="2.30" fill="#fff" stroke="#111" stroke-width="1.15"/>
<circle cx="93.50" cy="728.30" r="2.30" fill="#fff" stroke="#111" stroke-width="1.15"/>
<circle cx="140.56" cy="748.70" r="2.30" fill="#fff" stroke="#111" stroke-width="1.15"/>
<circle cx="164.09" cy="752.30" r="2.30" fill="#fff" stroke="#111" stroke-width="1.15"/>
<circle cx="187.62" cy="741.90" r="2.30" fill="#fff" stroke="#111" stroke-width="1.15"/>
<circle cx="211.15" cy="726.60" r="2.30" fill="#fff" stroke="#111" stroke-width="1.15"/>
<circle cx="234.68" cy="693.20" r="2.30" fill="#fff" stroke="#111" stroke-width="1.15"/>
<circle cx="258.21" cy="716.90" r="2.30" fill="#fff" stroke="#111" stroke-width="1.15"/>
<circle cx="324.20" cy="780.50" r="2.30" fill="#fff" stroke="#111" stroke-width="1.15"/>
<circle cx="347.90" cy="743.90" r="2.30" fill="#fff" stroke="#111" stroke-width="1.15"/>
<circle cx="414.10" cy="753.00" r="2.30" fill="#fff" stroke="#111" stroke-width="1.15"/>
<circle cx="437.70" cy="700.40" r="2.30" fill="#fff" stroke="#111" stroke-width="1.15"/>
<circle cx="95.90" cy="217.10" r="2.07" fill="#111" stroke="#111" stroke-width="1.15"/>
<circle cx="117.03" cy="115.30" r="2.30" fill="#111" stroke="#111" stroke-width="1.15"/>
<circle cx="140.56" cy="103.00" r="2.30" fill="#111" stroke="#111" stroke-width="1.15"/>
<circle cx="166.49" cy="112.30" r="2.30" fill="#111" stroke="#111" stroke-width="1.15"/>
<circle cx="234.68" cy="90.30" r="2.30" fill="#111" stroke="#111" stroke-width="1.15"/>
<circle cx="258.21" cy="99.50" r="2.30" fill="#111" stroke="#111" stroke-width="1.15"/>
<circle cx="347.90" cy="77.80" r="2.30" fill="#111" stroke="#111" stroke-width="1.15"/>
<circle cx="414.10" cy="72.80" r="2.30" fill="#111" stroke="#111" stroke-width="1.15"/>
<circle cx="234.68" cy="393.60" r="2.30" fill="#111" stroke="#111" stroke-width="1.15"/>
<circle cx="258.21" cy="439.60" r="2.30" fill="#111" stroke="#111" stroke-width="1.15"/>
<circle cx="324.50" cy="435.60" r="2.30" fill="#111" stroke="#111" stroke-width="1.15"/>
<circle cx="414.10" cy="376.40" r="2.30" fill="#111" stroke="#111" stroke-width="1.15"/>
<circle cx="437.70" cy="367.80" r="2.30" fill="#111" stroke="#111" stroke-width="1.15"/>
<circle cx="93.50" cy="753.80" r="2.30" fill="#111" stroke="#111" stroke-width="1.15"/>
<circle cx="117.03" cy="753.80" r="2.30" fill="#111" stroke="#111" stroke-width="1.15"/>
<circle cx="140.56" cy="753.20" r="2.30" fill="#111" stroke="#111" stroke-width="1.15"/>
<circle cx="211.15" cy="746.50" r="2.30" fill="#111" stroke="#111" stroke-width="1.15"/>
<circle cx="234.68" cy="753.40" r="2.30" fill="#111" stroke="#111" stroke-width="1.15"/>
<circle cx="258.21" cy="750.50" r="2.30" fill="#111" stroke="#111" stroke-width="1.15"/>
<circle cx="414.10" cy="735.60" r="2.30" fill="#111" stroke="#111" stroke-width="1.15"/>
<circle cx="437.70" cy="728.00" r="2.30" fill="#111" stroke="#111" stroke-width="1.15"/>
<path d="M99.20 215.56 L101.20 219.24 L97.20 219.24 Z" fill="#fff" stroke="#111" stroke-width="1.15" stroke-linejoin="miter"/>
<path d="M117.03 67.90 L119.53 72.50 L114.53 72.50 Z" fill="#fff" stroke="#111" stroke-width="1.15" stroke-linejoin="miter"/>
<path d="M140.56 48.40 L143.06 53.00 L138.06 53.00 Z" fill="#fff" stroke="#111" stroke-width="1.15" stroke-linejoin="miter"/>
<path d="M164.09 30.90 L166.59 35.50 L161.59 35.50 Z" fill="#fff" stroke="#111" stroke-width="1.15" stroke-linejoin="miter"/>
<path d="M211.15 24.70 L213.65 29.30 L208.65 29.30 Z" fill="#fff" stroke="#111" stroke-width="1.15" stroke-linejoin="miter"/>
<path d="M234.68 40.40 L237.18 45.00 L232.18 45.00 Z" fill="#fff" stroke="#111" stroke-width="1.15" stroke-linejoin="miter"/>
<path d="M234.68 66.90 L237.18 71.50 L232.18 71.50 Z" fill="#fff" stroke="#111" stroke-width="1.15" stroke-linejoin="miter"/>
<path d="M258.21 53.50 L260.71 58.10 L255.71 58.10 Z" fill="#fff" stroke="#111" stroke-width="1.15" stroke-linejoin="miter"/>
<path d="M324.20 68.70 L326.70 73.30 L321.70 73.30 Z" fill="#fff" stroke="#111" stroke-width="1.15" stroke-linejoin="miter"/>
<path d="M347.90 85.30 L350.40 89.90 L345.40 89.90 Z" fill="#fff" stroke="#111" stroke-width="1.15" stroke-linejoin="miter"/>
<path d="M414.10 73.50 L416.60 78.10 L411.60 78.10 Z" fill="#fff" stroke="#111" stroke-width="1.15" stroke-linejoin="miter"/>
<path d="M187.62 376.70 L190.12 381.30 L185.12 381.30 Z" fill="#fff" stroke="#111" stroke-width="1.15" stroke-linejoin="miter"/>
<path d="M211.15 357.70 L213.65 362.30 L208.65 362.30 Z" fill="#fff" stroke="#111" stroke-width="1.15" stroke-linejoin="miter"/>
<path d="M234.68 350.10 L237.18 354.70 L232.18 354.70 Z" fill="#fff" stroke="#111" stroke-width="1.15" stroke-linejoin="miter"/>
<path d="M258.21 350.10 L260.71 354.70 L255.71 354.70 Z" fill="#fff" stroke="#111" stroke-width="1.15" stroke-linejoin="miter"/>
<path d="M347.90 374.10 L350.40 378.70 L345.40 378.70 Z" fill="#fff" stroke="#111" stroke-width="1.15" stroke-linejoin="miter"/>
<path d="M414.10 381.70 L416.60 386.30 L411.60 386.30 Z" fill="#fff" stroke="#111" stroke-width="1.15" stroke-linejoin="miter"/>
<path d="M437.70 357.80 L440.20 362.40 L435.20 362.40 Z" fill="#fff" stroke="#111" stroke-width="1.15" stroke-linejoin="miter"/>
<path d="M93.50 758.30 L96.00 762.90 L91.00 762.90 Z" fill="#fff" stroke="#111" stroke-width="1.15" stroke-linejoin="miter"/>
<path d="M117.03 740.10 L119.53 744.70 L114.53 744.70 Z" fill="#fff" stroke="#111" stroke-width="1.15" stroke-linejoin="miter"/>
<path d="M117.03 758.30 L119.53 762.90 L114.53 762.90 Z" fill="#fff" stroke="#111" stroke-width="1.15" stroke-linejoin="miter"/>
<path d="M140.56 755.60 L143.06 760.20 L138.06 760.20 Z" fill="#fff" stroke="#111" stroke-width="1.15" stroke-linejoin="miter"/>
<path d="M187.62 730.40 L190.12 735.00 L185.12 735.00 Z" fill="#fff" stroke="#111" stroke-width="1.15" stroke-linejoin="miter"/>
<path d="M211.15 689.00 L213.65 693.60 L208.65 693.60 Z" fill="#fff" stroke="#111" stroke-width="1.15" stroke-linejoin="miter"/>
<path d="M234.68 672.40 L237.18 677.00 L232.18 677.00 Z" fill="#fff" stroke="#111" stroke-width="1.15" stroke-linejoin="miter"/>
<path d="M258.21 682.70 L260.71 687.30 L255.71 687.30 Z" fill="#fff" stroke="#111" stroke-width="1.15" stroke-linejoin="miter"/>
<path d="M324.20 743.50 L326.70 748.10 L321.70 748.10 Z" fill="#fff" stroke="#111" stroke-width="1.15" stroke-linejoin="miter"/>
<path d="M347.90 728.90 L350.40 733.50 L345.40 733.50 Z" fill="#fff" stroke="#111" stroke-width="1.15" stroke-linejoin="miter"/>
<path d="M437.70 731.70 L440.20 736.30 L435.20 736.30 Z" fill="#fff" stroke="#111" stroke-width="1.15" stroke-linejoin="miter"/>
<path d="M117.03 76.20 L119.53 80.80 L114.53 80.80 Z" fill="#111" stroke="#111" stroke-width="1.15" stroke-linejoin="miter"/>
<path d="M140.56 70.30 L143.06 74.90 L138.06 74.90 Z" fill="#111" stroke="#111" stroke-width="1.15" stroke-linejoin="miter"/>
<path d="M164.09 69.00 L166.59 73.60 L161.59 73.60 Z" fill="#111" stroke="#111" stroke-width="1.15" stroke-linejoin="miter"/>
<path d="M187.62 69.20 L190.12 73.80 L185.12 73.80 Z" fill="#111" stroke="#111" stroke-width="1.15" stroke-linejoin="miter"/>
<path d="M211.15 66.30 L213.65 70.90 L208.65 70.90 Z" fill="#111" stroke="#111" stroke-width="1.15" stroke-linejoin="miter"/>
<path d="M258.21 77.00 L260.71 81.60 L255.71 81.60 Z" fill="#111" stroke="#111" stroke-width="1.15" stroke-linejoin="miter"/>
<path d="M324.20 116.50 L326.70 121.10 L321.70 121.10 Z" fill="#111" stroke="#111" stroke-width="1.15" stroke-linejoin="miter"/>
<path d="M414.10 120.60 L416.60 125.20 L411.60 125.20 Z" fill="#111" stroke="#111" stroke-width="1.15" stroke-linejoin="miter"/>
<path d="M437.70 115.90 L440.20 120.50 L435.20 120.50 Z" fill="#111" stroke="#111" stroke-width="1.15" stroke-linejoin="miter"/>
<path d="M187.62 394.00 L190.12 398.60 L185.12 398.60 Z" fill="#111" stroke="#111" stroke-width="1.15" stroke-linejoin="miter"/>
<path d="M211.15 362.70 L213.65 367.30 L208.65 367.30 Z" fill="#111" stroke="#111" stroke-width="1.15" stroke-linejoin="miter"/>
<path d="M234.68 338.90 L237.18 343.50 L232.18 343.50 Z" fill="#111" stroke="#111" stroke-width="1.15" stroke-linejoin="miter"/>
<path d="M258.21 336.50 L260.71 341.10 L255.71 341.10 Z" fill="#111" stroke="#111" stroke-width="1.15" stroke-linejoin="miter"/>
<path d="M324.20 427.50 L326.70 432.10 L321.70 432.10 Z" fill="#111" stroke="#111" stroke-width="1.15" stroke-linejoin="miter"/>
<path d="M414.10 427.20 L416.60 431.80 L411.60 431.80 Z" fill="#111" stroke="#111" stroke-width="1.15" stroke-linejoin="miter"/>
<path d="M437.70 411.40 L440.20 416.00 L435.20 416.00 Z" fill="#111" stroke="#111" stroke-width="1.15" stroke-linejoin="miter"/>
<path d="M93.50 676.20 L96.00 680.80 L91.00 680.80 Z" fill="#111" stroke="#111" stroke-width="1.15" stroke-linejoin="miter"/>
<path d="M117.03 690.70 L119.53 695.30 L114.53 695.30 Z" fill="#111" stroke="#111" stroke-width="1.15" stroke-linejoin="miter"/>
<path d="M140.56 678.20 L143.06 682.80 L138.06 682.80 Z" fill="#111" stroke="#111" stroke-width="1.15" stroke-linejoin="miter"/>
<path d="M164.09 671.40 L166.59 676.00 L161.59 676.00 Z" fill="#111" stroke="#111" stroke-width="1.15" stroke-linejoin="miter"/>
<path d="M187.62 678.30 L190.12 682.90 L185.12 682.90 Z" fill="#111" stroke="#111" stroke-width="1.15" stroke-linejoin="miter"/>
<path d="M211.15 678.00 L213.65 682.60 L208.65 682.60 Z" fill="#111" stroke="#111" stroke-width="1.15" stroke-linejoin="miter"/>
<path d="M234.68 653.50 L237.18 658.10 L232.18 658.10 Z" fill="#111" stroke="#111" stroke-width="1.15" stroke-linejoin="miter"/>
<path d="M258.21 666.60 L260.71 671.20 L255.71 671.20 Z" fill="#111" stroke="#111" stroke-width="1.15" stroke-linejoin="miter"/>
<path d="M324.20 685.00 L326.70 689.60 L321.70 689.60 Z" fill="#111" stroke="#111" stroke-width="1.15" stroke-linejoin="miter"/>
<path d="M347.90 512.80 L350.40 517.40 L345.40 517.40 Z" fill="#111" stroke="#111" stroke-width="1.15" stroke-linejoin="miter"/>
<path d="M414.10 684.10 L416.60 688.70 L411.60 688.70 Z" fill="#111" stroke="#111" stroke-width="1.15" stroke-linejoin="miter"/>
<path d="M437.70 674.10 L440.20 678.70 L435.20 678.70 Z" fill="#111" stroke="#111" stroke-width="1.15" stroke-linejoin="miter"/>
<rect x="91.30" y="156.30" width="4.40" height="4.40" fill="#fff" stroke="#111" stroke-width="1.15"/>
<rect x="88.21" y="215.21" width="4.18" height="4.18" fill="#fff" stroke="#111" stroke-width="1.15"/>
<rect x="138.36" y="117.70" width="4.40" height="4.40" fill="#fff" stroke="#111" stroke-width="1.15"/>
<rect x="160.29" y="110.10" width="4.40" height="4.40" fill="#fff" stroke="#111" stroke-width="1.15"/>
<rect x="185.42" y="98.00" width="4.40" height="4.40" fill="#fff" stroke="#111" stroke-width="1.15"/>
<rect x="208.95" y="87.10" width="4.40" height="4.40" fill="#fff" stroke="#111" stroke-width="1.15"/>
<rect x="232.48" y="70.40" width="4.40" height="4.40" fill="#fff" stroke="#111" stroke-width="1.15"/>
<rect x="256.01" y="81.20" width="4.40" height="4.40" fill="#fff" stroke="#111" stroke-width="1.15"/>
<rect x="322.00" y="74.90" width="4.40" height="4.40" fill="#fff" stroke="#111" stroke-width="1.15"/>
<rect x="322.00" y="106.50" width="4.40" height="4.40" fill="#fff" stroke="#111" stroke-width="1.15"/>
<rect x="345.70" y="109.60" width="4.40" height="4.40" fill="#fff" stroke="#111" stroke-width="1.15"/>
<rect x="411.90" y="101.60" width="4.40" height="4.40" fill="#fff" stroke="#111" stroke-width="1.15"/>
<rect x="435.50" y="65.30" width="4.40" height="4.40" fill="#fff" stroke="#111" stroke-width="1.15"/>
<rect x="180.92" y="433.80" width="4.40" height="4.40" fill="#fff" stroke="#111" stroke-width="1.15"/>
<rect x="211.95" y="434.00" width="4.40" height="4.40" fill="#fff" stroke="#111" stroke-width="1.15"/>
<rect x="235.88" y="434.30" width="4.40" height="4.40" fill="#fff" stroke="#111" stroke-width="1.15"/>
<rect x="317.70" y="433.40" width="4.40" height="4.40" fill="#fff" stroke="#111" stroke-width="1.15"/>
<rect x="345.70" y="433.40" width="4.40" height="4.40" fill="#fff" stroke="#111" stroke-width="1.15"/>
<rect x="411.90" y="402.00" width="4.40" height="4.40" fill="#fff" stroke="#111" stroke-width="1.15"/>
<rect x="410.00" y="433.90" width="4.40" height="4.40" fill="#fff" stroke="#111" stroke-width="1.15"/>
<rect x="435.50" y="380.30" width="4.40" height="4.40" fill="#fff" stroke="#111" stroke-width="1.15"/>
<rect x="91.30" y="753.60" width="4.40" height="4.40" fill="#fff" stroke="#111" stroke-width="1.15"/>
<rect x="114.83" y="754.30" width="4.40" height="4.40" fill="#fff" stroke="#111" stroke-width="1.15"/>
<rect x="138.36" y="758.60" width="4.40" height="4.40" fill="#fff" stroke="#111" stroke-width="1.15"/>
<rect x="161.89" y="763.40" width="4.40" height="4.40" fill="#fff" stroke="#111" stroke-width="1.15"/>
<rect x="185.42" y="758.40" width="4.40" height="4.40" fill="#fff" stroke="#111" stroke-width="1.15"/>
<rect x="208.95" y="753.20" width="4.40" height="4.40" fill="#fff" stroke="#111" stroke-width="1.15"/>
<rect x="232.48" y="746.20" width="4.40" height="4.40" fill="#fff" stroke="#111" stroke-width="1.15"/>
<rect x="256.01" y="725.00" width="4.40" height="4.40" fill="#fff" stroke="#111" stroke-width="1.15"/>
<rect x="322.00" y="746.60" width="4.40" height="4.40" fill="#fff" stroke="#111" stroke-width="1.15"/>
<rect x="345.70" y="746.60" width="4.40" height="4.40" fill="#fff" stroke="#111" stroke-width="1.15"/>
<rect x="435.50" y="709.40" width="4.40" height="4.40" fill="#fff" stroke="#111" stroke-width="1.15"/>
<rect x="92.32" y="215.32" width="3.96" height="3.96" fill="#111" stroke="#111" stroke-width="1.15"/>
<rect x="138.36" y="103.00" width="4.40" height="4.40" fill="#111" stroke="#111" stroke-width="1.15"/>
<rect x="161.89" y="89.80" width="4.40" height="4.40" fill="#111" stroke="#111" stroke-width="1.15"/>
<rect x="185.42" y="82.80" width="4.40" height="4.40" fill="#111" stroke="#111" stroke-width="1.15"/>
<rect x="232.48" y="94.50" width="4.40" height="4.40" fill="#111" stroke="#111" stroke-width="1.15"/>
<rect x="256.01" y="89.10" width="4.40" height="4.40" fill="#111" stroke="#111" stroke-width="1.15"/>
<rect x="322.00" y="102.50" width="4.40" height="4.40" fill="#111" stroke="#111" stroke-width="1.15"/>
<rect x="345.70" y="68.20" width="4.40" height="4.40" fill="#111" stroke="#111" stroke-width="1.15"/>
<rect x="189.92" y="433.80" width="4.40" height="4.40" fill="#111" stroke="#111" stroke-width="1.15"/>
<rect x="208.95" y="424.00" width="4.40" height="4.40" fill="#111" stroke="#111" stroke-width="1.15"/>
<rect x="232.48" y="372.70" width="4.40" height="4.40" fill="#111" stroke="#111" stroke-width="1.15"/>
<rect x="256.01" y="357.40" width="4.40" height="4.40" fill="#111" stroke="#111" stroke-width="1.15"/>
<rect x="322.00" y="423.20" width="4.40" height="4.40" fill="#111" stroke="#111" stroke-width="1.15"/>
<rect x="345.70" y="388.50" width="4.40" height="4.40" fill="#111" stroke="#111" stroke-width="1.15"/>
<rect x="114.83" y="764.00" width="4.40" height="4.40" fill="#111" stroke="#111" stroke-width="1.15"/>
<rect x="138.36" y="766.20" width="4.40" height="4.40" fill="#111" stroke="#111" stroke-width="1.15"/>
<rect x="185.42" y="753.20" width="4.40" height="4.40" fill="#111" stroke="#111" stroke-width="1.15"/>
<rect x="208.95" y="743.50" width="4.40" height="4.40" fill="#111" stroke="#111" stroke-width="1.15"/>
<rect x="232.48" y="697.80" width="4.40" height="4.40" fill="#111" stroke="#111" stroke-width="1.15"/>
<rect x="256.01" y="659.10" width="4.40" height="4.40" fill="#111" stroke="#111" stroke-width="1.15"/>
<rect x="345.70" y="723.80" width="4.40" height="4.40" fill="#111" stroke="#111" stroke-width="1.15"/>
<rect x="411.90" y="730.40" width="4.40" height="4.40" fill="#111" stroke="#111" stroke-width="1.15"/>
<path d="M117.03 68.40 L119.53 63.80 L114.53 63.80 Z" fill="#fff" stroke="#111" stroke-width="1.15" stroke-linejoin="miter"/>
<path d="M140.56 45.60 L143.06 41.00 L138.06 41.00 Z" fill="#fff" stroke="#111" stroke-width="1.15" stroke-linejoin="miter"/>
<path d="M164.09 48.00 L166.59 43.40 L161.59 43.40 Z" fill="#fff" stroke="#111" stroke-width="1.15" stroke-linejoin="miter"/>
<path d="M211.15 30.30 L213.65 25.70 L208.65 25.70 Z" fill="#fff" stroke="#111" stroke-width="1.15" stroke-linejoin="miter"/>
<path d="M211.15 50.00 L213.65 45.40 L208.65 45.40 Z" fill="#fff" stroke="#111" stroke-width="1.15" stroke-linejoin="miter"/>
<path d="M234.68 59.10 L237.18 54.50 L232.18 54.50 Z" fill="#fff" stroke="#111" stroke-width="1.15" stroke-linejoin="miter"/>
<path d="M258.21 78.00 L260.71 73.40 L255.71 73.40 Z" fill="#fff" stroke="#111" stroke-width="1.15" stroke-linejoin="miter"/>
<path d="M324.20 72.30 L326.70 67.70 L321.70 67.70 Z" fill="#fff" stroke="#111" stroke-width="1.15" stroke-linejoin="miter"/>
<path d="M347.90 90.90 L350.40 86.30 L345.40 86.30 Z" fill="#fff" stroke="#111" stroke-width="1.15" stroke-linejoin="miter"/>
<path d="M414.10 91.50 L416.60 86.90 L411.60 86.90 Z" fill="#fff" stroke="#111" stroke-width="1.15" stroke-linejoin="miter"/>
<path d="M140.56 369.50 L143.06 364.90 L138.06 364.90 Z" fill="#fff" stroke="#111" stroke-width="1.15" stroke-linejoin="miter"/>
<path d="M164.09 362.70 L166.59 358.10 L161.59 358.10 Z" fill="#fff" stroke="#111" stroke-width="1.15" stroke-linejoin="miter"/>
<path d="M187.62 336.90 L190.12 332.30 L185.12 332.30 Z" fill="#fff" stroke="#111" stroke-width="1.15" stroke-linejoin="miter"/>
<path d="M211.15 277.80 L213.65 273.20 L208.65 273.20 Z" fill="#fff" stroke="#111" stroke-width="1.15" stroke-linejoin="miter"/>
<path d="M234.68 308.50 L237.18 303.90 L232.18 303.90 Z" fill="#fff" stroke="#111" stroke-width="1.15" stroke-linejoin="miter"/>
<path d="M258.21 285.80 L260.71 281.20 L255.71 281.20 Z" fill="#fff" stroke="#111" stroke-width="1.15" stroke-linejoin="miter"/>
<path d="M324.20 385.10 L326.70 380.50 L321.70 380.50 Z" fill="#fff" stroke="#111" stroke-width="1.15" stroke-linejoin="miter"/>
<path d="M347.90 393.00 L350.40 388.40 L345.40 388.40 Z" fill="#fff" stroke="#111" stroke-width="1.15" stroke-linejoin="miter"/>
<path d="M437.70 407.00 L440.20 402.40 L435.20 402.40 Z" fill="#fff" stroke="#111" stroke-width="1.15" stroke-linejoin="miter"/>
<path d="M93.50 699.60 L96.00 695.00 L91.00 695.00 Z" fill="#fff" stroke="#111" stroke-width="1.15" stroke-linejoin="miter"/>
<path d="M93.50 762.90 L96.00 758.30 L91.00 758.30 Z" fill="#fff" stroke="#111" stroke-width="1.15" stroke-linejoin="miter"/>
<path d="M117.03 713.10 L119.53 708.50 L114.53 708.50 Z" fill="#fff" stroke="#111" stroke-width="1.15" stroke-linejoin="miter"/>
<path d="M140.56 686.80 L143.06 682.20 L138.06 682.20 Z" fill="#fff" stroke="#111" stroke-width="1.15" stroke-linejoin="miter"/>
<path d="M164.09 693.30 L166.59 688.70 L161.59 688.70 Z" fill="#fff" stroke="#111" stroke-width="1.15" stroke-linejoin="miter"/>
<path d="M187.62 680.60 L190.12 676.00 L185.12 676.00 Z" fill="#fff" stroke="#111" stroke-width="1.15" stroke-linejoin="miter"/>
<path d="M211.15 668.40 L213.65 663.80 L208.65 663.80 Z" fill="#fff" stroke="#111" stroke-width="1.15" stroke-linejoin="miter"/>
<path d="M234.68 671.20 L237.18 666.60 L232.18 666.60 Z" fill="#fff" stroke="#111" stroke-width="1.15" stroke-linejoin="miter"/>
<path d="M258.21 631.30 L260.71 626.70 L255.71 626.70 Z" fill="#fff" stroke="#111" stroke-width="1.15" stroke-linejoin="miter"/>
<path d="M324.20 720.80 L326.70 716.20 L321.70 716.20 Z" fill="#fff" stroke="#111" stroke-width="1.15" stroke-linejoin="miter"/>
<path d="M347.90 722.50 L350.40 717.90 L345.40 717.90 Z" fill="#fff" stroke="#111" stroke-width="1.15" stroke-linejoin="miter"/>
<path d="M93.50 177.44 L95.50 173.76 L91.50 173.76 Z" fill="#111" stroke="#111" stroke-width="1.15" stroke-linejoin="miter"/>
<path d="M140.56 42.60 L143.06 38.00 L138.06 38.00 Z" fill="#111" stroke="#111" stroke-width="1.15" stroke-linejoin="miter"/>
<path d="M164.09 44.20 L166.59 39.60 L161.59 39.60 Z" fill="#111" stroke="#111" stroke-width="1.15" stroke-linejoin="miter"/>
<path d="M187.62 53.60 L190.12 49.00 L185.12 49.00 Z" fill="#111" stroke="#111" stroke-width="1.15" stroke-linejoin="miter"/>
<path d="M234.68 24.10 L237.18 19.50 L232.18 19.50 Z" fill="#111" stroke="#111" stroke-width="1.15" stroke-linejoin="miter"/>
<path d="M258.21 54.00 L260.71 49.40 L255.71 49.40 Z" fill="#111" stroke="#111" stroke-width="1.15" stroke-linejoin="miter"/>
<path d="M347.90 53.80 L350.40 49.20 L345.40 49.20 Z" fill="#111" stroke="#111" stroke-width="1.15" stroke-linejoin="miter"/>
<path d="M437.70 64.30 L440.20 59.70 L435.20 59.70 Z" fill="#111" stroke="#111" stroke-width="1.15" stroke-linejoin="miter"/>
<path d="M140.56 425.10 L143.06 420.50 L138.06 420.50 Z" fill="#111" stroke="#111" stroke-width="1.15" stroke-linejoin="miter"/>
<path d="M164.09 420.80 L166.59 416.20 L161.59 416.20 Z" fill="#111" stroke="#111" stroke-width="1.15" stroke-linejoin="miter"/>
<path d="M187.62 406.50 L190.12 401.90 L185.12 401.90 Z" fill="#111" stroke="#111" stroke-width="1.15" stroke-linejoin="miter"/>
<path d="M211.15 379.20 L213.65 374.60 L208.65 374.60 Z" fill="#111" stroke="#111" stroke-width="1.15" stroke-linejoin="miter"/>
<path d="M234.68 360.80 L237.18 356.20 L232.18 356.20 Z" fill="#111" stroke="#111" stroke-width="1.15" stroke-linejoin="miter"/>
<path d="M258.21 442.70 L260.71 438.10 L255.71 438.10 Z" fill="#111" stroke="#111" stroke-width="1.15" stroke-linejoin="miter"/>
<path d="M324.20 379.30 L326.70 374.70 L321.70 374.70 Z" fill="#111" stroke="#111" stroke-width="1.15" stroke-linejoin="miter"/>
<path d="M347.90 358.30 L350.40 353.70 L345.40 353.70 Z" fill="#111" stroke="#111" stroke-width="1.15" stroke-linejoin="miter"/>
<path d="M414.10 396.10 L416.60 391.50 L411.60 391.50 Z" fill="#111" stroke="#111" stroke-width="1.15" stroke-linejoin="miter"/>
<path d="M437.70 394.60 L440.20 390.00 L435.20 390.00 Z" fill="#111" stroke="#111" stroke-width="1.15" stroke-linejoin="miter"/>
<path d="M93.50 745.10 L96.00 740.50 L91.00 740.50 Z" fill="#111" stroke="#111" stroke-width="1.15" stroke-linejoin="miter"/>
<path d="M117.03 741.70 L119.53 737.10 L114.53 737.10 Z" fill="#111" stroke="#111" stroke-width="1.15" stroke-linejoin="miter"/>
<path d="M164.09 751.10 L166.59 746.50 L161.59 746.50 Z" fill="#111" stroke="#111" stroke-width="1.15" stroke-linejoin="miter"/>
<path d="M187.62 730.10 L190.12 725.50 L185.12 725.50 Z" fill="#111" stroke="#111" stroke-width="1.15" stroke-linejoin="miter"/>
<path d="M211.15 728.30 L213.65 723.70 L208.65 723.70 Z" fill="#111" stroke="#111" stroke-width="1.15" stroke-linejoin="miter"/>
<path d="M234.68 665.70 L237.18 661.10 L232.18 661.10 Z" fill="#111" stroke="#111" stroke-width="1.15" stroke-linejoin="miter"/>
<path d="M258.21 655.40 L260.71 650.80 L255.71 650.80 Z" fill="#111" stroke="#111" stroke-width="1.15" stroke-linejoin="miter"/>
<path d="M324.20 709.00 L326.70 704.40 L321.70 704.40 Z" fill="#111" stroke="#111" stroke-width="1.15" stroke-linejoin="miter"/>
<path d="M347.90 702.40 L350.40 697.80 L345.40 697.80 Z" fill="#111" stroke="#111" stroke-width="1.15" stroke-linejoin="miter"/>
<path d="M347.90 729.80 L350.40 725.20 L345.40 725.20 Z" fill="#111" stroke="#111" stroke-width="1.15" stroke-linejoin="miter"/>
<path d="M414.10 727.61 L415.85 724.39 L412.35 724.39 Z" fill="#111" stroke="#111" stroke-width="1.15" stroke-linejoin="miter"/>
<path d="M437.70 723.30 L440.20 718.70 L435.20 718.70 Z" fill="#111" stroke="#111" stroke-width="1.15" stroke-linejoin="miter"/>
<path d="M93.50 167.80 L96.60 170.90 L93.50 174.00 L90.40 170.90 Z" fill="#fff" stroke="#111" stroke-width="1.15"/>
<path d="M117.03 119.80 L120.13 122.90 L117.03 126.00 L113.93 122.90 Z" fill="#fff" stroke="#111" stroke-width="1.15"/>
<path d="M140.56 123.50 L143.66 126.60 L140.56 129.70 L137.46 126.60 Z" fill="#fff" stroke="#111" stroke-width="1.15"/>
<path d="M164.09 115.40 L167.19 118.50 L164.09 121.60 L160.99 118.50 Z" fill="#fff" stroke="#111" stroke-width="1.15"/>
<path d="M187.62 38.80 L190.72 41.90 L187.62 45.00 L184.52 41.90 Z" fill="#fff" stroke="#111" stroke-width="1.15"/>
<path d="M187.62 115.90 L190.72 119.00 L187.62 122.10 L184.52 119.00 Z" fill="#fff" stroke="#111" stroke-width="1.15"/>
<path d="M211.15 98.20 L214.25 101.30 L211.15 104.40 L208.05 101.30 Z" fill="#fff" stroke="#111" stroke-width="1.15"/>
<path d="M234.68 102.40 L237.78 105.50 L234.68 108.60 L231.58 105.50 Z" fill="#fff" stroke="#111" stroke-width="1.15"/>
<path d="M258.21 113.80 L261.31 116.90 L258.21 120.00 L255.11 116.90 Z" fill="#fff" stroke="#111" stroke-width="1.15"/>
<path d="M324.20 187.50 L327.30 190.60 L324.20 193.70 L321.10 190.60 Z" fill="#fff" stroke="#111" stroke-width="1.15"/>
<path d="M347.90 60.50 L351.00 63.60 L347.90 66.70 L344.80 63.60 Z" fill="#fff" stroke="#111" stroke-width="1.15"/>
<path d="M414.10 168.50 L417.20 171.60 L414.10 174.70 L411.00 171.60 Z" fill="#fff" stroke="#111" stroke-width="1.15"/>
<path d="M437.70 44.00 L440.80 47.10 L437.70 50.20 L434.60 47.10 Z" fill="#fff" stroke="#111" stroke-width="1.15"/>
<path d="M140.56 426.00 L143.66 429.10 L140.56 432.20 L137.46 429.10 Z" fill="#fff" stroke="#111" stroke-width="1.15"/>
<path d="M164.09 407.20 L167.19 410.30 L164.09 413.40 L160.99 410.30 Z" fill="#fff" stroke="#111" stroke-width="1.15"/>
<path d="M187.62 410.10 L190.72 413.20 L187.62 416.30 L184.52 413.20 Z" fill="#fff" stroke="#111" stroke-width="1.15"/>
<path d="M211.15 405.80 L214.25 408.90 L211.15 412.00 L208.05 408.90 Z" fill="#fff" stroke="#111" stroke-width="1.15"/>
<path d="M234.68 388.30 L237.78 391.40 L234.68 394.50 L231.58 391.40 Z" fill="#fff" stroke="#111" stroke-width="1.15"/>
<path d="M258.21 390.30 L261.31 393.40 L258.21 396.50 L255.11 393.40 Z" fill="#fff" stroke="#111" stroke-width="1.15"/>
<path d="M328.30 432.50 L331.40 435.60 L328.30 438.70 L325.20 435.60 Z" fill="#fff" stroke="#111" stroke-width="1.15"/>
<path d="M347.90 331.00 L351.00 334.10 L347.90 337.20 L344.80 334.10 Z" fill="#fff" stroke="#111" stroke-width="1.15"/>
<path d="M416.80 432.50 L419.90 435.60 L416.80 438.70 L413.70 435.60 Z" fill="#fff" stroke="#111" stroke-width="1.15"/>
<path d="M437.70 338.30 L440.80 341.40 L437.70 344.50 L434.60 341.40 Z" fill="#fff" stroke="#111" stroke-width="1.15"/>
<path d="M93.50 698.00 L96.60 701.10 L93.50 704.20 L90.40 701.10 Z" fill="#fff" stroke="#111" stroke-width="1.15"/>
<path d="M117.03 720.40 L120.13 723.50 L117.03 726.60 L113.93 723.50 Z" fill="#fff" stroke="#111" stroke-width="1.15"/>
<path d="M140.56 715.50 L143.66 718.60 L140.56 721.70 L137.46 718.60 Z" fill="#fff" stroke="#111" stroke-width="1.15"/>
<path d="M164.09 718.90 L167.19 722.00 L164.09 725.10 L160.99 722.00 Z" fill="#fff" stroke="#111" stroke-width="1.15"/>
<path d="M187.62 709.70 L190.72 712.80 L187.62 715.90 L184.52 712.80 Z" fill="#fff" stroke="#111" stroke-width="1.15"/>
<path d="M211.15 710.90 L214.25 714.00 L211.15 717.10 L208.05 714.00 Z" fill="#fff" stroke="#111" stroke-width="1.15"/>
<path d="M234.68 684.40 L237.78 687.50 L234.68 690.60 L231.58 687.50 Z" fill="#fff" stroke="#111" stroke-width="1.15"/>
<path d="M258.21 688.10 L261.31 691.20 L258.21 694.30 L255.11 691.20 Z" fill="#fff" stroke="#111" stroke-width="1.15"/>
<path d="M324.20 668.90 L327.30 672.00 L324.20 675.10 L321.10 672.00 Z" fill="#fff" stroke="#111" stroke-width="1.15"/>
<path d="M347.90 647.10 L351.00 650.20 L347.90 653.30 L344.80 650.20 Z" fill="#fff" stroke="#111" stroke-width="1.15"/>
<path d="M414.10 702.90 L417.20 706.00 L414.10 709.10 L411.00 706.00 Z" fill="#fff" stroke="#111" stroke-width="1.15"/>
<path d="M437.70 636.90 L440.80 640.00 L437.70 643.10 L434.60 640.00 Z" fill="#fff" stroke="#111" stroke-width="1.15"/>
<path d="M86.80 431.9 H101.40 L102.60 436.5 L101.40 440.8 H88.90 Z" fill="#111"/>
<circle cx="95.40" cy="434.8" r="2.0" fill="#fff"/>
<path d="M91.00 433.4 L92.70 436.5 L89.30 436.5 Z" fill="#fff"/>
<rect x="91.70" y="437.0" width="3.6" height="3.6" fill="#fff"/>
<path d="M98.50 436.5 H101.90 L100.20 439.4 Z" fill="#fff"/>
<path d="M86.40 435.7 L89.80 439.1 L86.40 442.5 L83.00 439.1 Z" fill="#fff" stroke="#111" stroke-width="1.2"/>
<path d="M110.33 431.9 H124.93 L126.13 436.5 L124.93 440.8 H112.43 Z" fill="#111"/>
<circle cx="118.93" cy="434.8" r="2.0" fill="#fff"/>
<path d="M114.53 433.4 L116.23 436.5 L112.83 436.5 Z" fill="#fff"/>
<rect x="115.23" y="437.0" width="3.6" height="3.6" fill="#fff"/>
<path d="M122.03 436.5 H125.43 L123.73 439.4 Z" fill="#fff"/>
<path d="M109.93 435.7 L113.33 439.1 L109.93 442.5 L106.53 439.1 Z" fill="#fff" stroke="#111" stroke-width="1.2"/>
<rect x="134.16" y="431.6" width="12.6" height="5.9" fill="#111"/>
<circle cx="146.16" cy="434.6" r="2.9" fill="#111"/>
<path d="M133.06 437.5 L135.06 431.6 L136.06 437.5 Z" fill="#111"/>
<rect x="140.66" y="436.6" width="4.6" height="4.4" fill="#111"/>
<rect x="136.86" y="436.8" width="3.8" height="3.8" fill="#fff" stroke="#111" stroke-width="1.1"/>
<circle cx="142.76" cy="434.4" r="1.9" fill="#fff"/>
<circle cx="137.46" cy="433.9" r="1.3" fill="#fff"/>
<rect x="157.69" y="431.6" width="12.6" height="5.9" fill="#111"/>
<circle cx="169.69" cy="434.6" r="2.9" fill="#111"/>
<rect x="156.79" y="431.4" width="2" height="5.6" fill="#111"/>
<rect x="164.19" y="436.6" width="4.6" height="4.4" fill="#111"/>
<rect x="160.39" y="436.8" width="3.8" height="3.8" fill="#fff" stroke="#111" stroke-width="1.1"/>
<circle cx="166.29" cy="434.4" r="1.9" fill="#fff"/>
<circle cx="160.99" cy="433.9" r="1.3" fill="#fff"/>
<rect x="90.9" y="186.3" width="5.1" height="6.3" fill="#111"/>
<path d="M92.1 187.7 H94.7 L93.4 190.3 Z" fill="#fff"/>
<circle cx="437.90" cy="79.55" r="2.75" fill="#111"/>
<rect x="435.15" y="79.55" width="5.5" height="4.95" fill="#111"/>
<path d="M436.50 78.95 H439.30 L437.90 81.85 Z" fill="#fff"/>
<circle cx="93.50" cy="171.00" r="2.30" fill="#fff" stroke="#111" stroke-width="1.15"/>
<circle cx="164.09" cy="120.60" r="2.30" fill="#fff" stroke="#111" stroke-width="1.15"/>
<circle cx="187.62" cy="121.70" r="2.30" fill="#fff" stroke="#111" stroke-width="1.15"/>
<circle cx="324.20" cy="73.70" r="2.30" fill="#fff" stroke="#111" stroke-width="1.15"/>
<path d="M187.62 39.20 L190.12 43.80 L185.12 43.80 Z" fill="#fff" stroke="#111" stroke-width="1.15" stroke-linejoin="miter"/>
<rect x="256.01" y="433.40" width="4.40" height="4.40" fill="#fff" stroke="#111" stroke-width="1.15"/>
<rect x="411.90" y="726.40" width="4.40" height="4.40" fill="#fff" stroke="#111" stroke-width="1.15"/>
<path d="M187.62 44.80 L190.12 40.20 L185.12 40.20 Z" fill="#fff" stroke="#111" stroke-width="1.15" stroke-linejoin="miter"/>
<rect x="87.00" y="173.70" width="13" height="1.6" fill="#111"/>
<rect x="110.53" y="115.10" width="13" height="1.6" fill="#111"/>
<rect x="134.06" y="101.50" width="13" height="1.6" fill="#111"/>
<rect x="157.59" y="91.30" width="13" height="1.6" fill="#111"/>
<rect x="181.12" y="79.30" width="13" height="1.6" fill="#111"/>
<rect x="204.65" y="90.00" width="13" height="1.6" fill="#111"/>
<rect x="228.18" y="71.40" width="13" height="1.6" fill="#111"/>
<rect x="251.71" y="85.50" width="13" height="1.6" fill="#111"/>
<rect x="317.70" y="76.00" width="13" height="1.6" fill="#111"/>
<rect x="341.40" y="71.20" width="13" height="1.6" fill="#111"/>
<rect x="407.60" y="94.20" width="13" height="1.6" fill="#111"/>
<rect x="431.20" y="70.90" width="13" height="1.6" fill="#111"/>
<rect x="181.12" y="408.10" width="13" height="1.6" fill="#111"/>
<rect x="204.65" y="410.00" width="13" height="1.6" fill="#111"/>
<rect x="228.18" y="376.40" width="13" height="1.6" fill="#111"/>
<rect x="251.71" y="362.30" width="13" height="1.6" fill="#111"/>
<rect x="317.70" y="431.00" width="13" height="1.6" fill="#111"/>
<rect x="341.40" y="386.30" width="13" height="1.6" fill="#111"/>
<rect x="407.60" y="405.40" width="13" height="1.6" fill="#111"/>
<rect x="431.20" y="382.30" width="13" height="1.6" fill="#111"/>
<rect x="87.00" y="741.30" width="13" height="1.6" fill="#111"/>
<rect x="110.53" y="745.00" width="13" height="1.6" fill="#111"/>
<rect x="134.06" y="751.30" width="13" height="1.6" fill="#111"/>
<rect x="157.59" y="753.30" width="13" height="1.6" fill="#111"/>
<rect x="181.12" y="728.50" width="13" height="1.6" fill="#111"/>
<rect x="204.65" y="726.10" width="13" height="1.6" fill="#111"/>
<rect x="228.18" y="688.90" width="13" height="1.6" fill="#111"/>
<rect x="251.71" y="684.80" width="13" height="1.6" fill="#111"/>
<rect x="317.70" y="742.40" width="13" height="1.6" fill="#111"/>
<rect x="341.40" y="723.50" width="13" height="1.6" fill="#111"/>
<rect x="407.60" y="723.30" width="13" height="1.6" fill="#111"/>
<rect x="431.20" y="714.40" width="13" height="1.6" fill="#111"/>
<rect x="464.6" y="95.4" width="54.6" height="86.2" fill="#fff" stroke="#484848" stroke-width="1.0"/>
<circle cx="471.00" cy="103.50" r="1.84" fill="#fff" stroke="#111" stroke-width="1.15"/>
<text x="478.0" y="106.10" font-size="8.5" letter-spacing="0.42" fill="#1c1c1c">Patient 1</text>
<circle cx="471.00" cy="112.50" r="1.84" fill="#111" stroke="#111" stroke-width="1.15"/>
<text x="478.0" y="115.10" font-size="8.5" letter-spacing="0.42" fill="#1c1c1c">Patient 2</text>
<path d="M471.00 119.66 L473.00 123.34 L469.00 123.34 Z" fill="#fff" stroke="#111" stroke-width="1.15" stroke-linejoin="miter"/>
<text x="478.0" y="124.10" font-size="8.5" letter-spacing="0.42" fill="#1c1c1c">Patient 3</text>
<path d="M471.00 128.66 L473.00 132.34 L469.00 132.34 Z" fill="#111" stroke="#111" stroke-width="1.15" stroke-linejoin="miter"/>
<text x="478.0" y="133.10" font-size="8.5" letter-spacing="0.42" fill="#1c1c1c">Patient 4</text>
<rect x="469.24" y="137.74" width="3.52" height="3.52" fill="#fff" stroke="#111" stroke-width="1.15"/>
<text x="478.0" y="142.10" font-size="8.5" letter-spacing="0.42" fill="#1c1c1c">Patient 5</text>
<rect x="469.24" y="146.74" width="3.52" height="3.52" fill="#111" stroke="#111" stroke-width="1.15"/>
<text x="478.0" y="151.10" font-size="8.5" letter-spacing="0.42" fill="#1c1c1c">Patient 6</text>
<path d="M471.00 159.34 L473.00 155.66 L469.00 155.66 Z" fill="#fff" stroke="#111" stroke-width="1.15" stroke-linejoin="miter"/>
<text x="478.0" y="160.10" font-size="8.5" letter-spacing="0.42" fill="#1c1c1c">Patient 7</text>
<path d="M471.00 168.34 L473.00 164.66 L469.00 164.66 Z" fill="#111" stroke="#111" stroke-width="1.15" stroke-linejoin="miter"/>
<text x="478.0" y="169.10" font-size="8.5" letter-spacing="0.42" fill="#1c1c1c">Patient 8</text>
<path d="M471.00 173.02 L473.48 175.50 L471.00 177.98 L468.52 175.50 Z" fill="#fff" stroke="#111" stroke-width="1.15"/>
<text x="478.0" y="178.10" font-size="8.5" letter-spacing="0.42" fill="#1c1c1c">Patient 9</text>
</svg></body></html>
